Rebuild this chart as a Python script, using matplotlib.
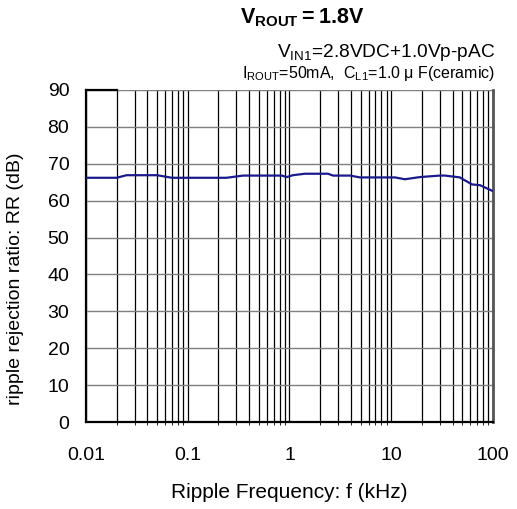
import numpy as np
import matplotlib.pyplot as plt
from matplotlib.ticker import LogLocator, NullFormatter

plt.rcParams['font.family'] = ['Liberation Sans', 'DejaVu Sans']
plt.rcParams['mathtext.fontset'] = 'custom'
plt.rcParams['mathtext.rm'] = 'Liberation Sans'
plt.rcParams['mathtext.bf'] = 'Liberation Sans:bold'

# ripple rejection curve
freq_khz = [0.01, 0.02, 0.025, 0.05, 0.07, 0.24, 0.35, 0.84, 0.94, 1.08, 1.42, 2.39,
            2.68, 3.94, 4.93, 10.9, 13.6, 19.2, 30.1, 33.8, 47.4, 50.7, 62.2, 74.5, 97.7]
rr_db = [66.2, 66.2, 66.9, 66.9, 66.2, 66.2, 66.8, 66.8, 66.4, 66.9, 67.3, 67.3,
         66.8, 66.8, 66.3, 66.3, 65.8, 66.4, 66.8, 66.8, 66.3, 65.8, 64.4, 64.2, 62.7]

y_ticks = [0, 10, 20, 30, 40, 50, 60, 70, 80, 90]
x_ticks = [0.01, 0.1, 1, 10, 100]
x_labels = ['0.01', '0.1', '1', '10', '100']

fig = plt.figure(figsize=(5.17, 5.09), dpi=100)
ax = fig.add_axes([0.1663, 0.1709, 0.7873, 0.6523])

ax.set_xscale('log')
ax.set_xlim(0.01, 100)
ax.set_ylim(0, 90)

# grid: black verticals, gray horizontals
ax.xaxis.set_minor_locator(LogLocator(base=10, subs=np.arange(2, 10)))
ax.xaxis.set_minor_formatter(NullFormatter())
ax.set_xticks(x_ticks)
ax.set_xticklabels(x_labels)
ax.set_yticks(y_ticks)
ax.grid(True, which='both', axis='x', color='black', lw=0.9)
ax.grid(True, which='major', axis='y', color='#7f7f7f', lw=1.0)
ax.tick_params(length=0, labelsize=14)
ax.tick_params(axis='y', pad=12)
ax.tick_params(axis='x', pad=18)

ax.plot(freq_khz, rr_db, color='#1a1a8c', lw=1.6, zorder=3)

for s in ['left', 'bottom']:
    ax.spines[s].set_linewidth(1.6)
ax.spines['right'].set_color('#555555')
ax.spines['right'].set_linewidth(2)
ax.spines['top'].set_visible(False)
ax.axhline(90, xmin=0, xmax=np.log10(2) / 4, color='black', lw=1.6, clip_on=False)

ax.set_xlabel('Ripple Frequency: f (kHz)', fontsize=15, labelpad=14)
ax.set_ylabel('ripple rejection ratio: RR (dB)', fontsize=14, labelpad=8)
ax.yaxis.set_label_coords(-0.152, 0.43)

fig.text(0.584, 0.965, r'$\mathbf{V_{ROUT}}$$\mathbf{=1.8V}$', ha='center', va='center',
         fontsize=15.5)
fig.text(0.958, 0.896, r'$\mathregular{V_{IN1}}$=2.8VDC+1.0Vp-pAC', ha='right',
         va='center', fontsize=13.8)
fig.text(0.958, 0.855, r'$\mathregular{I_{ROUT}}$=50mA,  $\mathregular{C_{L1}}$=1.0 μ F(ceramic)',
         ha='right', va='center', fontsize=11.5)

fig.savefig('out.png', dpi=100)
